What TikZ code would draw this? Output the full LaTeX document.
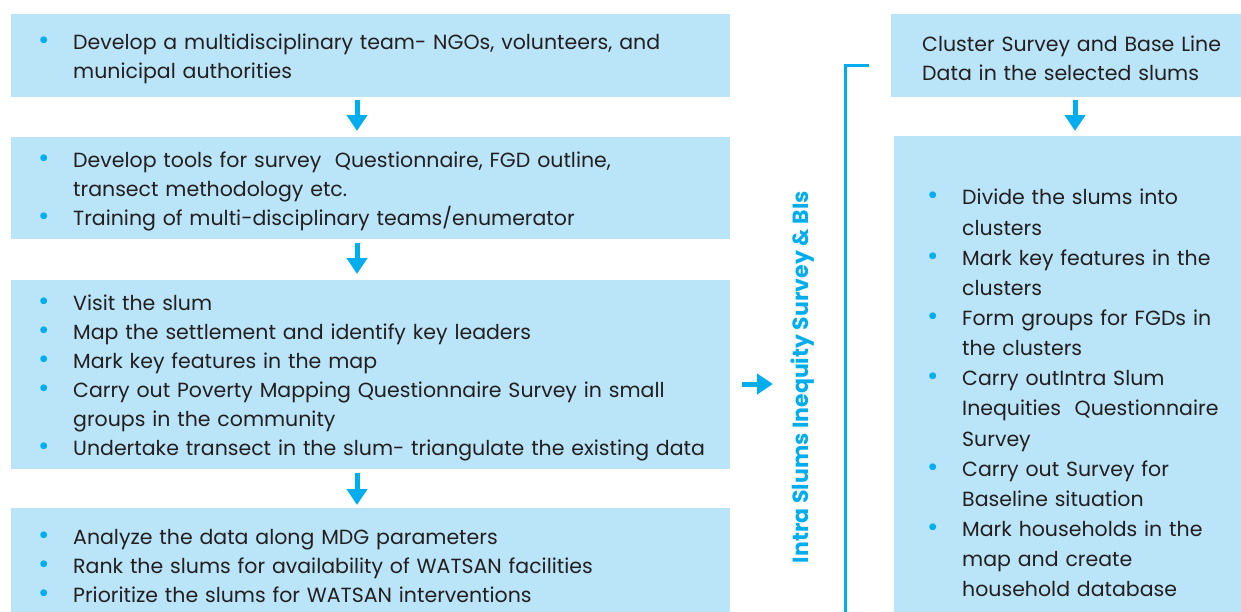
\documentclass[tikz,border=0pt]{standalone}
\usepackage{fontspec}
\setmainfont{Poppins}
\usetikzlibrary{arrows.meta,positioning}

\definecolor{boxblue}{HTML}{BAE5F8}
\definecolor{arrowblue}{HTML}{00AEEF}
\definecolor{inkgray}{HTML}{231F20}

% bullet item and continuation line, kept on one line each
\newcommand\bitem[1]{\mbox{\makebox[35pt][l]{\textcolor{arrowblue}{\scalebox{1.35}{\textbullet}}}#1}}
\newcommand\bcont[1]{\mbox{\hspace*{35pt}#1}}

\begin{document}
\begin{tikzpicture}[x=1pt,y=-1pt,
    stepbox/.style={fill=boxblue, anchor=north west, align=left, inner ysep=0pt,
        text height=21.5pt, text=inkgray, font=\fontsize{20.5}{29}\selectfont},
    leftbox/.style={stepbox, inner xsep=27pt, text width=665pt},
    flow/.style={draw=arrowblue, line width=5pt, -{Triangle[length=16pt,width=20pt]}},
    bracket/.style={draw=arrowblue, line width=3pt}]
    \useasboundingbox (0,0) rectangle (1241,611);
    \clip (0,0) rectangle (1241,611);

    % left column
    \node[leftbox, minimum height=83pt] (team) at (11,14)
        {\bitem{Develop a multidisciplinary team- NGOs, volunteers, and}\\
         \bcont{municipal authorities}};
    \node[leftbox, minimum height=102pt] (tools) at (11,137)
        {\bitem{Develop tools for survey \ Questionnaire, FGD outline,}\\
         \bcont{transect methodology etc.}\\
         \bitem{Training of multi-disciplinary teams/enumerator}};
    \node[leftbox, minimum height=189pt] (visit) at (11,280)
        {\bitem{Visit the slum}\\
         \bitem{Map the settlement and identify key leaders}\\
         \bitem{Mark key features in the map}\\
         \bitem{Carry out Poverty Mapping Questionnaire Survey in small}\\
         \bcont{groups in the community}\\
         \bitem{Undertake transect in the slum- triangulate the existing data}};
    \node[leftbox, minimum height=110pt] (rank) at (11,508)
        {\bitem{Analyze the data along MDG parameters}\\
         \bitem{Rank the slums for availability of WATSAN facilities}\\
         \bitem{Prioritize the slums for WATSAN interventions}};

    \draw[flow, shorten <=3pt, shorten >=6pt] (team.south -| 357,0) -- (tools.north -| 357,0);
    \draw[flow, shorten <=4pt, shorten >=6pt] (tools.south -| 357,0) -- (visit.north -| 357,0);
    \draw[flow, shorten <=4pt, shorten >=3pt] (visit.south -| 357,0) -- (rank.north -| 357,0);

    % link to the intra slum survey
    \node[rotate=90, text=arrowblue, font=\fontsize{22}{26}\bfseries\selectfont] (intra) at (803,377)
        {Intra Slums Inequity Survey \& BIs};
    \coordinate (tip) at (773,384);
    \draw[flow, shorten <=12pt] (visit.east |- tip) -- (tip);
    \draw[bracket] (869,65) -- (845,65) -- (845,620);

    % right column
    \node[stepbox, inner xsep=31pt, text width=320pt, minimum height=83pt] (cluster) at (891,14)
        {Cluster Survey and Base Line\\ Data in the selected slums};
    \node[stepbox, inner xsep=33pt, text width=320pt, minimum height=508pt,
        font=\fontsize{20.5}{30.15}\selectfont] (divide) at (894,136)
        {\bitem{Divide the slums into}\\
         \bcont{clusters}\\
         \bitem{Mark key features in the}\\
         \bcont{clusters}\\
         \bitem{Form groups for FGDs in}\\
         \bcont{the clusters}\\
         \bitem{Carry outIntra Slum}\\
         \bcont{Inequities \ Questionnaire}\\
         \bcont{Survey}\\
         \bitem{Carry out Survey for}\\
         \bcont{Baseline situation}\\
         \bitem{Mark households in the}\\
         \bcont{map and create}\\
         \bcont{household database}};
    \draw[flow, shorten <=3pt, shorten >=5pt] (cluster.south -| 1075,0) -- (divide.north -| 1075,0);
\end{tikzpicture}
\end{document}
